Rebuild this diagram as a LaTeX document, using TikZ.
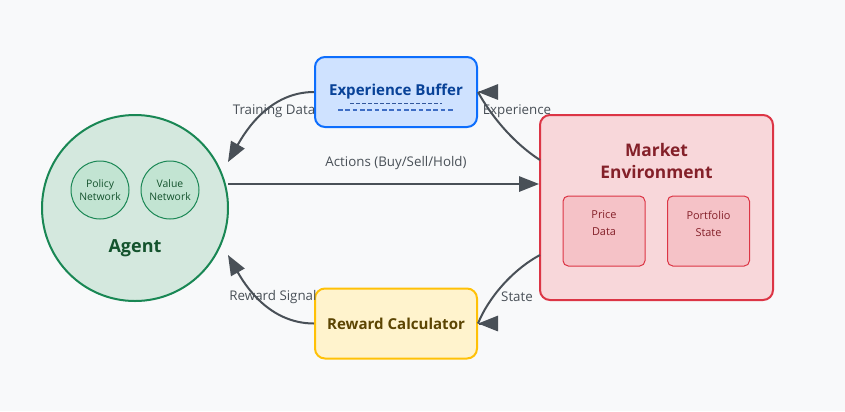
\documentclass[tikz,border=0pt]{standalone}
\usepackage{fontspec}
\setmainfont{Open Sans}
\usetikzlibrary{arrows.meta, positioning}
\definecolor{PageBg}{HTML}{F8F9FA}
\definecolor{FlowGray}{HTML}{495057}
\definecolor{AgentFill}{HTML}{D4E8DE}
\definecolor{AgentLine}{HTML}{198754}
\definecolor{AgentText}{HTML}{14532D}
\definecolor{NetFill}{HTML}{C2E4D2}
\definecolor{BufFill}{HTML}{CFE2FF}
\definecolor{BufLine}{HTML}{0D6EFD}
\definecolor{BufText}{HTML}{084298}
\definecolor{DashBlue}{HTML}{3E6DC4}
\definecolor{MktFill}{HTML}{F8D7DA}
\definecolor{MktLine}{HTML}{DC3545}
\definecolor{MktText}{HTML}{842029}
\definecolor{PartFill}{HTML}{F5C2C7}
\definecolor{RwdFill}{HTML}{FFF3CD}
\definecolor{RwdLine}{HTML}{FFC107}
\definecolor{RwdText}{HTML}{5C4503}

\begin{document}
\begin{tikzpicture}[
        x=0.75pt, y=-0.75pt,
        flowline/.style={draw=FlowGray, line width=1.5pt},
        flow/.style={flowline, -{Triangle[length=15pt, width=11.5pt]}},
        lbl/.style={font=\fontsize{10}{12}\selectfont, text=FlowGray},
        box/.style={rounded corners=7.5pt, line width=1.5pt, minimum width=121.5pt, minimum height=52.5pt, font=\bfseries\fontsize{11.3}{13}\selectfont},
        net/.style={circle, draw=AgentLine, fill=NetFill, line width=0.75pt, minimum size=43.5pt, inner sep=0pt, align=center, font=\fontsize{7.8}{10.2}\selectfont, text=AgentText},
        part/.style={draw=MktLine, fill=PartFill, rounded corners=4pt, line width=0.75pt, minimum width=61.5pt, minimum height=52.5pt},
        parttxt/.style={align=center, font=\fontsize{8.2}{12.75}\selectfont, text=MktText}
    ]
    \fill[PageBg] (0,0) rectangle (845,411);
    \useasboundingbox (0,0) rectangle (845,411);

    % agent
    \node[circle, draw=AgentLine, fill=AgentFill, line width=1.5pt, minimum size=139.5pt] (agent) at (135,208) {};
    \node[net] (policy) at (100,190) {Policy\\Network};
    \node[net] (value) at (170,190) {Value\\Network};
    \node[font=\bfseries\fontsize{13.5}{15}\selectfont, text=AgentText] (agentname) at (135,248) {Agent};

    % buffer and reward
    \node[box, draw=BufLine, fill=BufFill, text=BufText] (buf) at (396,92) {Experience Buffer};
    \draw[DashBlue!80!black, line width=0.8pt, dash pattern=on 3pt off 1.5pt] ([xshift=-34.5pt, yshift=-8.3pt]buf.center) -- ++(92,0);
    \draw[DashBlue, line width=0.8pt, dash pattern=on 3.5pt off 2pt] ([xshift=-43.5pt, yshift=-13.5pt]buf.center) -- ++(116,0);
    \node[box, draw=RwdLine, fill=RwdFill, text=RwdText] (rwd) at (396,323.5) {Reward Calculator};

    % market
    \node[draw=MktLine, fill=MktFill, rounded corners=7.5pt, line width=1.5pt, minimum width=174.75pt, minimum height=138.75pt] (mkt) at (656.5,207.5) {};
    \node[align=center, font=\bfseries\fontsize{13}{17}\selectfont, text=MktText] (mkttitle) at (656.5,161) {Market\\Environment};
    \node[part] (price) at (604,231) {};
    \node[parttxt, below=8pt of price.north] (pricetxt) {Price\\Data};
    \node[part] (folio) at (708.5,231) {};
    \node[parttxt, below=8pt of folio.north] (foliotxt) {Portfolio\\State};

    % connectors
    \coordinate (actL) at (228,184);
    \coordinate (trainEnd) at (228,162);
    \coordinate (rwdEnd) at (228,255);
    \coordinate (expOut) at (540,160);
    \coordinate (stateOut) at (540,255);
    \draw[flow] (actL) -- (actL -| mkt.west);
    \draw[flow] (buf.west) .. controls +(-45,0) and +(17,-30) .. (trainEnd);
    \draw[flowline] (expOut) .. controls +(-28,-18) and +(12,22) .. (buf.east);
    \draw[flow] ([xshift=1pt]buf.east) -- (buf.east);
    \draw[flowline] (stateOut) .. controls +(-28,15) and +(10,-25) .. (rwd.east);
    \draw[flow] ([xshift=1pt]rwd.east) -- (rwd.east);
    \draw[flow] (rwd.west) .. controls +(-45,0) and +(17,30) .. (rwdEnd);

    \node[lbl] (actlbl) at (396,163) {Actions (Buy/Sell/Hold)};
    \node[lbl] (trainlbl) at (274,111) {Training Data};
    \node[lbl] (explbl) at (517,111) {Experience};
    \node[lbl] (rwdlbl) at (273,297) {Reward Signal};
    \node[lbl] (statelbl) at (517,297) {State};
\end{tikzpicture}
\end{document}
